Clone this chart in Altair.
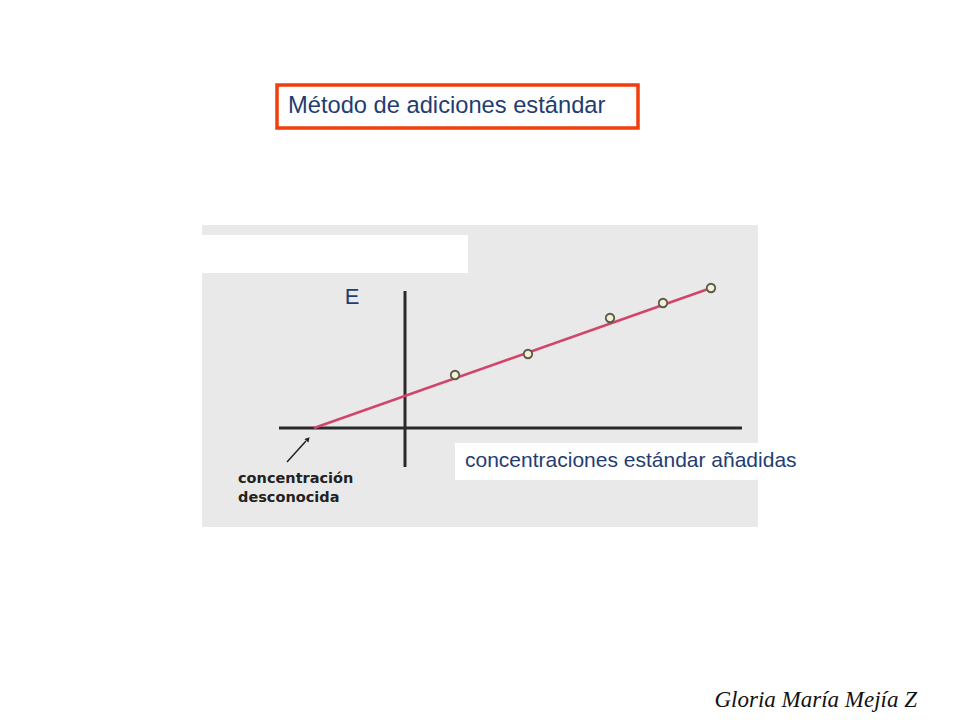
import altair as alt
import pandas as pd

# --- data (concentration units; E in signal units) ---
std_added = [1.0, 2.46, 4.1, 5.16, 6.12]
signal_E = [1.06, 1.48, 2.2, 2.5, 2.8]
fit_x = [-1.82, 6.12]
fit_y = [0.0, 2.8]
axis_x_extent = [-2.52, 6.74]
axis_y_extent = [-0.78, 2.74]

title_text = "Método de adiciones estándar"
y_label = "E"
x_label = "concentraciones estándar añadidas"
unknown_label = ["concentración", "desconocida"]
author = "Gloria María Mejía Z"

W, H = 944, 704
xs = alt.Scale(domain=[-7.94, 10.94], nice=False, zero=False)
ys = alt.Scale(domain=[-5.68, 8.4], nice=False, zero=False)

one = pd.DataFrame({"k": [0]})
base = alt.Chart(one)

points = pd.DataFrame({"c": std_added, "E": signal_E})
fit = pd.DataFrame({"c": fit_x, "E": fit_y})
hax = pd.DataFrame({"x1": [axis_x_extent[0]], "x2": [axis_x_extent[1]], "y": [0.0]})
vax = pd.DataFrame({"x": [0.0], "y1": [axis_y_extent[0]], "y2": [axis_y_extent[1]]})

BLUE = "#1f3d72"

bg = base.mark_rect(color="#e9e9e9").encode(
    x=alt.value(194), x2=alt.value(750), y=alt.value(217), y2=alt.value(519))
white_top = base.mark_rect(color="#ffffff").encode(
    x=alt.value(194), x2=alt.value(460), y=alt.value(227), y2=alt.value(265))
white_lbl = base.mark_rect(color="#ffffff").encode(
    x=alt.value(447), x2=alt.value(799), y=alt.value(435), y2=alt.value(472))

title_box = base.mark_rect(fill=None, stroke="#f23d0c", strokeWidth=3.5).encode(
    x=alt.value(269), x2=alt.value(630), y=alt.value(77), y2=alt.value(120))
title = base.mark_text(align="left", baseline="alphabetic", font="Liberation Sans",
                       fontSize=23.7, color=BLUE, text=title_text).encode(
    x=alt.value(280), y=alt.value(105))

h_axis = alt.Chart(hax).mark_rule(color="#2a2a2a", strokeWidth=3).encode(
    x=alt.X("x1:Q", scale=xs, axis=None), x2="x2:Q",
    y=alt.Y("y:Q", scale=ys, axis=None))
v_axis = alt.Chart(vax).mark_rule(color="#2a2a2a", strokeWidth=3).encode(
    x=alt.X("x:Q", scale=xs, axis=None),
    y=alt.Y("y1:Q", scale=ys, axis=None), y2="y2:Q")

line = alt.Chart(fit).mark_line(color="#d2456b", strokeWidth=2.5).encode(
    x=alt.X("c:Q", scale=xs, axis=None), y=alt.Y("E:Q", scale=ys, axis=None))
pts = alt.Chart(points).mark_point(shape="circle", filled=True, fill="#f4f0d6",
                                   stroke="#5a5a48", strokeWidth=1.8, size=72, opacity=1).encode(
    x=alt.X("c:Q", scale=xs, axis=None), y=alt.Y("E:Q", scale=ys, axis=None))

e_text = base.mark_text(align="center", baseline="alphabetic", font="Liberation Sans",
                        fontSize=22, color=BLUE, text=y_label).encode(
    x=alt.value(344), y=alt.value(296))
x_text = base.mark_text(align="left", baseline="alphabetic", font="Liberation Sans",
                        fontSize=21, color=BLUE, text=x_label).encode(
    x=alt.value(457), y=alt.value(459))

arrow_shaft = base.mark_rule(color="#222222", strokeWidth=1.5).encode(
    x=alt.value(279), y=alt.value(454), x2=alt.value(298), y2=alt.value(433))
arrow_head = base.mark_point(shape="triangle-up", filled=True, color="#222222",
                             size=30, angle=42, opacity=1).encode(
    x=alt.value(300), y=alt.value(431))

unk1 = base.mark_text(align="left", baseline="alphabetic", font="DejaVu Sans",
                      fontWeight="bold", fontSize=14.5, color="#222222",
                      text=unknown_label[0]).encode(x=alt.value(230), y=alt.value(475))
unk2 = base.mark_text(align="left", baseline="alphabetic", font="DejaVu Sans",
                      fontWeight="bold", fontSize=14.5, color="#222222",
                      text=unknown_label[1]).encode(x=alt.value(230), y=alt.value(494))

sig = base.mark_text(align="right", baseline="alphabetic", font="Liberation Serif",
                     fontStyle="italic", fontSize=23, color="#111111", text=author).encode(
    x=alt.value(909), y=alt.value(699))

chart = alt.layer(
    bg, white_top, white_lbl, title_box, title,
    h_axis, v_axis, line, pts, e_text, x_text,
    arrow_shaft, arrow_head, unk1, unk2, sig
).properties(
    width=W, height=H, padding=0, background="#ffffff",
    autosize=alt.AutoSizeParams(type="none")
).configure_view(stroke=None)

chart.save("out.html", embed_options={"renderer": "svg", "actions": False})
